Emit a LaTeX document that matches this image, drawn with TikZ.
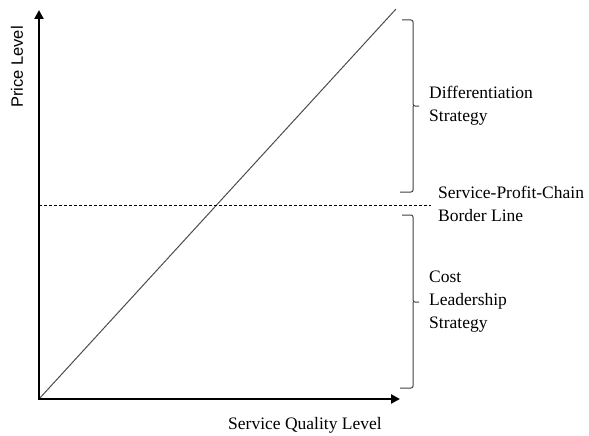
\documentclass[tikz,border=0pt]{standalone}
\usepackage{fontspec}
\setmainfont{Liberation Serif}
\newfontfamily\axisfont{Liberation Sans}
\usetikzlibrary{arrows.meta}
\tikzset{
  lbl/.style={font=\fontsize{17.5}{23}\selectfont, inner sep=0pt, align=left, anchor=west},
  axisline/.style={line width=2.8pt, -{Triangle[length=9pt,width=9pt]}},
  diag/.style={line width=1pt, black!70},
  border/.style={line width=0.9pt, dash pattern=on 3pt off 2pt},
  bracket/.style={line width=1pt, black!75, rounded corners=2pt},
}
\begin{document}
\begin{tikzpicture}[x=1pt,y=-1pt]
\useasboundingbox (0,0) rectangle (589,436);
\coordinate (O) at (39,399);
\coordinate (ytip) at (39,10);
\coordinate (xtip) at (400,399);
\coordinate (dtop) at (396,9);
\coordinate (bl) at (39,205);
\coordinate (br) at (431,205);
% diagonal
\draw[diag] (O) -- (dtop);
% dashed border line
\draw[border] (bl) -- (br);
% axes
\draw[axisline] (O) -- (ytip);
\draw[axisline] ([xshift=-1.4pt]O) -- (xtip);
% brackets
\draw[bracket] (402,20) -- (413,20) -- (413,106) -- (419,106) (413,106) -- (413,192) -- (400,192);
\draw[bracket] (402,215) -- (413,215) -- (413,302) -- (419,302) (413,302) -- (413,388) -- (400,388);
% labels
\node[lbl] (diff) at (429,106) {Differentiation\\Strategy};
\node[lbl] (spc) at (438,204) {Service-Profit-Chain\\Border Line};
\node[lbl] (cost) at (429,302) {Cost\\Leadership\\Strategy};
\node[font=\fontsize{17.5}{21}\selectfont, inner sep=0pt] (xl) at (305,425) {Service Quality Level};
\node[font=\axisfont\fontsize{16.5}{20}\selectfont, inner sep=0pt, rotate=90] (yl) at (17,67) {Price Level};
\end{tikzpicture}
\end{document}
